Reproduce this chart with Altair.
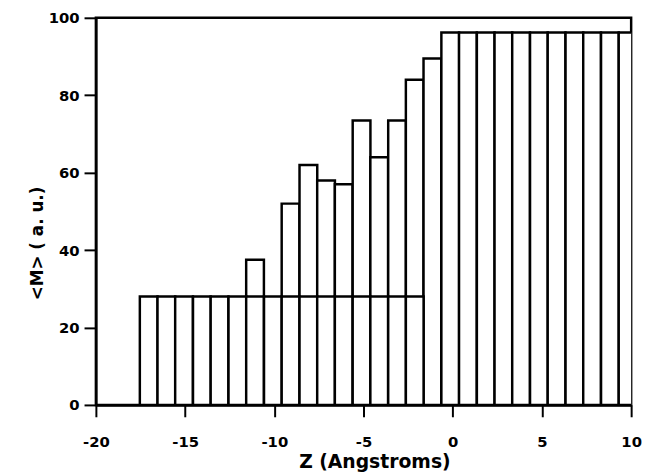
import altair as alt
import pandas as pd

# Bar centres (Angstroms) and heights
BAR_WIDTH = 0.994

base_z = [-17.04, -16.05, -15.06, -14.06, -13.07, -12.07, -11.08, -10.08,
          -9.09, -8.09, -7.10, -6.11, -5.11, -4.12, -3.12, -2.13]
base_m = [28, 28, 28, 28, 28, 28, 28, 28, 28, 28, 28, 28, 28, 28, 28, 28]

top_z = [-11.08, -9.09, -8.09, -7.10, -6.11, -5.11, -4.12, -3.12, -2.13, -1.14,
         -0.14, 0.85, 1.85, 2.84, 3.83, 4.83, 5.82, 6.82, 7.81, 8.81, 9.80]
top_m = [37.5, 52, 62, 58, 57, 73.5, 64, 73.5, 84, 89.5,
         96.2, 96.2, 96.2, 96.2, 96.2, 96.2, 96.2, 96.2, 96.2, 96.2, 96.2]

x_ticks = [-20, -15, -10, -5, 0, 5, 10]
y_ticks = [0, 20, 40, 60, 80, 100]


def frame(z, m):
    df = pd.DataFrame({"z": z, "m": m})
    df["left"] = df["z"] - BAR_WIDTH / 2
    df["right"] = df["z"] + BAR_WIDTH / 2
    return df


FONT = "DejaVu Sans"

x_scale = alt.Scale(domain=[-20, 10], nice=False, zero=False)
y_scale = alt.Scale(domain=[0, 100], nice=False)

x_axis = alt.Axis(values=x_ticks, title="Z (Angstroms)", labelFlush=False,
                  labelExpr="'' + datum.value",
                  titleX=282, titleY=57, titleBaseline="middle",
                  titleFontSize=19, labelPadding=18)
y_axis = alt.Axis(values=y_ticks, title="<M> ( a. u.)",
                  titleX=-59, titleY=228, titleBaseline="middle",
                  titleFontSize=17, labelPadding=5)


def bars(df):
    return alt.Chart(df).mark_rect(
        fill="white", stroke="black", strokeWidth=2.5, clip=True
    ).encode(
        x=alt.X("left:Q", scale=x_scale, axis=x_axis),
        x2="right:Q",
        y=alt.Y("m:Q", scale=y_scale, axis=y_axis),
        y2=alt.datum(0),
    )


chart = alt.layer(bars(frame(top_z, top_m)), bars(frame(base_z, base_m))).properties(
    width=542,
    height=392,
    autosize=alt.AutoSizeParams(type="none"),
    padding={"left": 89, "top": 7, "right": 12, "bottom": 66},
).configure_view(
    stroke="black", strokeWidth=2.5
).configure_axis(
    domainColor="black", domainWidth=2.5,
    tickColor="black", tickWidth=2, tickSize=12,
    grid=False,
    labelFont=FONT, labelFontSize=15, labelFontWeight="bold", labelColor="black",
    titleFont=FONT, titleFontWeight="bold", titleColor="black",
)

chart.save("out.html", embed_options={"renderer": "svg", "actions": False})
